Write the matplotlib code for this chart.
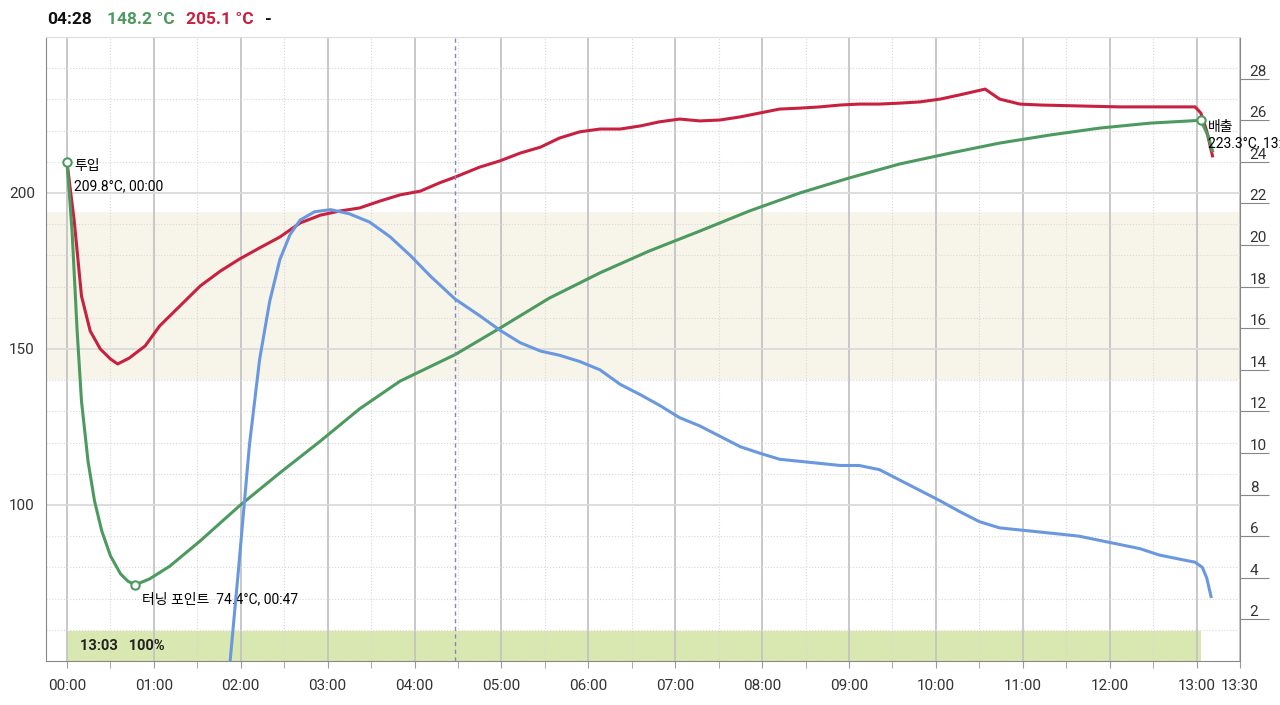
import matplotlib
matplotlib.use('Agg')
import matplotlib.pyplot as plt
from matplotlib.ticker import FixedLocator, MultipleLocator, FuncFormatter

plt.rcParams['font.family'] = ['Roboto', 'Noto Sans CJK KR', 'DejaVu Sans']

# roast time in seconds, temperatures in degC, rate of rise on right axis
red_t = [0, 5, 10, 16, 23, 30, 35, 43, 54, 64, 78, 92, 106, 119, 133, 147, 161, 175, 188, 202,
         216, 230, 244, 257, 268, 285, 299, 313, 327, 340, 354, 368, 382, 396, 409, 423, 437,
         451, 465, 478, 492, 506, 520, 534, 547, 561, 575, 589, 603, 616, 634, 644, 658, 672,
         699, 727, 754, 779, 783, 787, 791]
red_v = [209.8, 191.0, 167.0, 155.8, 150.0, 146.8, 145.2, 147.1, 151.0, 157.4, 163.8, 170.2,
         175.0, 178.8, 182.4, 185.9, 190.4, 192.9, 194.2, 195.2, 197.4, 199.4, 200.6, 203.2,
         205.1, 208.3, 210.3, 212.8, 214.7, 217.6, 219.6, 220.5, 220.5, 221.5, 222.8, 223.7,
         223.1, 223.4, 224.4, 225.6, 226.9, 227.2, 227.6, 228.2, 228.5, 228.5, 228.8, 229.2,
         230.1, 231.4, 233.3, 230.1, 228.5, 228.2, 227.9, 227.6, 227.6, 227.6, 225.6, 219.9, 211.9]

green_t = [0, 3.5, 7, 10, 14.5, 19, 24, 30, 37, 42, 47, 57, 71, 92, 119, 147, 175, 202, 230,
           268, 299, 333, 368, 402, 437, 471, 506, 540, 575, 610, 644, 679, 713, 748, 783, 788, 791]
green_v = [209.8, 187.8, 155.8, 133.3, 114.1, 101.3, 91.7, 83.7, 77.9, 75.6, 74.4, 76.3, 80.4,
           88.5, 99.7, 110.3, 120.5, 130.8, 139.7, 148.2, 156.7, 166.3, 174.4, 181.4, 187.8,
           194.2, 200.0, 204.8, 209.3, 212.8, 216.0, 218.6, 220.8, 222.4, 223.3, 218.3, 213.5]

ror_t = [112, 119, 126, 133, 140, 147, 154, 161, 171, 182, 195, 209, 223, 237, 251, 268, 285,
         299, 313, 327, 340, 354, 368, 382, 396, 409, 423, 437, 451, 465, 478, 492, 506, 520,
         534, 547, 561, 575, 589, 603, 616, 630, 644, 658, 672, 686, 699, 713, 727, 741, 754,
         768, 779, 784, 787, 790]
ror_v = [-0.5, 4.85, 10.4, 14.5, 17.3, 19.3, 20.5, 21.2, 21.6, 21.7, 21.5, 21.1, 20.4, 19.5,
         18.5, 17.4, 16.6, 15.9, 15.3, 14.9, 14.7, 14.4, 14.0, 13.3, 12.8, 12.3, 11.7, 11.3,
         10.8, 10.3, 10.0, 9.7, 9.6, 9.5, 9.4, 9.4, 9.2, 8.7, 8.2, 7.7, 7.2, 6.7, 6.4, 6.3,
         6.2, 6.1, 6.0, 5.8, 5.6, 5.4, 5.1, 4.9, 4.75, 4.5, 4.0, 3.1]

charge = (0, 209.8)
turning = (47, 74.4)
drop = (783, 223.3)
cursor_t = 268
target_band = (140, 194)
dev_end = 783
dev_height = 9.6

red = '#c8203f'
green = '#4c9a5f'
blue = '#6a98e0'


def mmss(s, pos=None):
    s = int(round(s))
    return '%02d:%02d' % (s // 60, s % 60)


fig = plt.figure(figsize=(12.8, 7.05), dpi=100)
ax = fig.add_axes([46 / 1280, 44 / 705, 1194 / 1280, 624 / 705])
ax2 = ax.twinx()

ax.set_xlim(-14.5, 810)
ax.set_ylim(50, 250)
ax2.set_ylim(0, 30)

# background bands
ax.axhspan(target_band[0], target_band[1], color='#f7f4ea', zorder=0, lw=0)
ax.fill_between([0, dev_end], 50, 50 + dev_height, color='#d9e8b0', zorder=0, lw=0)

# grid
ax.xaxis.set_major_locator(FixedLocator(list(range(0, 781, 60)) + [810]))
ax.xaxis.set_minor_locator(MultipleLocator(30))
ax.xaxis.set_major_formatter(FuncFormatter(mmss))
ax.set_yticks([100, 150, 200])
ax.yaxis.set_minor_locator(MultipleLocator(10))
ax.grid(which='major', axis='x', color='#c4c4c4', lw=1.3)
ax.grid(which='minor', axis='x', color='#d8d8d8', lw=0.8, ls=':')
ax.grid(which='major', axis='y', color='#dadada', lw=1.3)
ax.grid(which='minor', axis='y', color='#d8d8d8', lw=0.8, ls=':')
ax.set_axisbelow(True)

ax.tick_params(axis='y', which='both', length=0, labelsize=11, colors='#333333', pad=8)
ax.tick_params(axis='x', which='major', length=5, labelsize=11, colors='#333333', pad=8)
ax.tick_params(axis='x', which='minor', length=5, colors='#999999')
ax.tick_params(axis='x', which='major', color='#999999')

for sp in ['left', 'bottom']:
    ax.spines[sp].set_color('#888888')
ax.spines['top'].set_color('#dddddd')
ax.spines['right'].set_color('#888888')
for sp in ax2.spines.values():
    sp.set_visible(False)

ax2.set_yticks(range(2, 29, 2))
ax2.tick_params(axis='y', length=21, pad=-14, labelsize=11, colors='#333333', color='#888888')
for lab in ax2.get_yticklabels():
    lab.set_verticalalignment('bottom')

# curves
ax.plot(red_t, red_v, color=red, lw=2.2, zorder=3)
ax.plot(green_t, green_v, color=green, lw=2.2, zorder=3)
ax2.plot(ror_t, ror_v, color=blue, lw=2.2, zorder=3)

ax.axvline(cursor_t, color='#8388b4', lw=1, ls=(0, (3, 2.5)), zorder=4)

for p in [charge, turning, drop]:
    ax.plot(p[0], p[1], 'o', ms=6, mfc='white', mec=green, mew=1.5, zorder=5)

ax.text(charge[0] + 5, charge[1] - 1, '투입', fontsize=10, va='center', ha='left', zorder=6)
ax.text(charge[0] + 5, charge[1] - 7.5, '209.8°C, 00:00', fontsize=10, va='center', ha='left', zorder=6)
ax.text(turning[0] + 5, turning[1] - 4.5, '터닝 포인트  74.4°C, 00:47', fontsize=10, va='center',
        ha='left', zorder=6)
ax.text(drop[0] + 5, drop[1] - 2, '배출', fontsize=10, va='center', ha='left', zorder=6, clip_on=False)
ax.text(drop[0] + 5, drop[1] - 7.5, '223.3°C, 13:03', fontsize=10, va='center', ha='left', zorder=6,
        clip_on=False)

ax.text(9, 50 + dev_height / 2, '13:03   100%', fontsize=10.5, fontweight='bold', va='center',
        ha='left', color='#222222', zorder=6)

# readout on top
y0 = 1 - 19 / 705
fig.text(47 / 1280, y0, '04:28', fontsize=12.5, fontweight='bold', color='#111111', va='center')
fig.text(107 / 1280, y0, '148.2 °C', fontsize=12.5, fontweight='bold', color=green, va='center')
fig.text(186 / 1280, y0, '205.1 °C', fontsize=12.5, fontweight='bold', color=red, va='center')
fig.text(265 / 1280, y0, '-', fontsize=12.5, fontweight='bold', color='#111111', va='center')

fig.savefig('out.png', dpi=100)
